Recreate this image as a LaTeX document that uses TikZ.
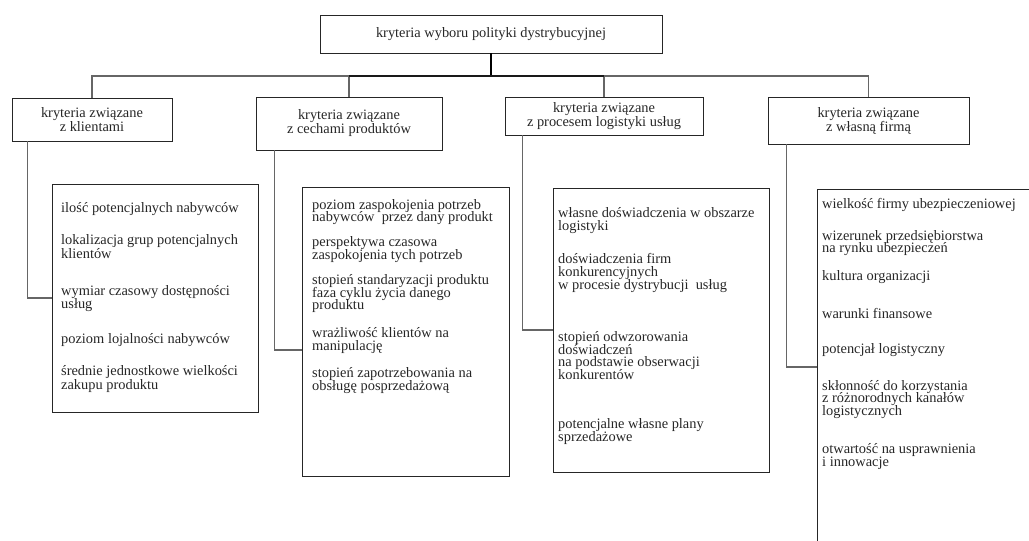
\documentclass[tikz,border=0pt]{standalone}
\usepackage{fontspec}
\setmainfont{Liberation Serif}
\usetikzlibrary{positioning}

\newcommand{\boxfont}{\fontsize{14.4}{14}\selectfont\lineskiplimit=-20pt}
\newcommand{\listfont}{\fontsize{14.4}{12.8}\selectfont\lineskiplimit=-20pt}
\newcommand{\looselist}{\fontsize{14.4}{13.6}\selectfont\lineskiplimit=-20pt}

\begin{document}
\begin{tikzpicture}[x=1pt, y=-1pt,
  rootbox/.style={rectangle, draw=black!85, line width=0.9pt,
    minimum width=342pt, minimum height=38pt, font=\boxfont, text=black!85},
  catbox/.style={rectangle, draw=black!85, line width=0.9pt, inner sep=0pt,
    align=center, font=\boxfont, text=black!85},
  listbox/.style={rectangle, draw=black!85, line width=0.9pt, inner sep=0pt,
    anchor=north west},
  items/.style={anchor=north west, inner sep=0pt, align=left,
    font=\listfont, text=black!85},
  link/.style={draw=black!60, line width=1.1pt},
  busline/.style={draw=black!90, line width=1.3pt},
  stem/.style={draw=black, line width=2.2pt}
]
\useasboundingbox (0,0) rectangle (1029,541);
\clip (0,0) rectangle (1029,541);
% === Top: main criterion ===
\node[rootbox] (root) at (491,34) {kryteria wyboru polityki dystrybucyjnej};
\coordinate (bus) at (491,76);
% === Level 1: four groups of criteria ===
\node[catbox, minimum width=160pt, minimum height=43pt] (klienci) at (92,119.5)
  {kryteria związane\\z klientami};
\node[catbox, minimum width=186pt, minimum height=53pt] (produkty) at (349,123.5)
  {kryteria związane\\z cechami produktów};
\node[catbox, minimum width=198pt, minimum height=38pt] (logistyka) at (604,116)
  {kryteria związane\\z procesem logistyki usług};
\node[catbox, minimum width=201pt, minimum height=47pt] (firma) at (868.5,120.5)
  {kryteria związane\\z własną firmą};
% === Level 2: lists of detailed criteria ===
\node[listbox, minimum width=206pt, minimum height=228pt] (lklienci) at (52,184) {};
\node[listbox, minimum width=207pt, minimum height=289pt] (lprodukty) at (302,187) {};
\node[listbox, minimum width=216pt, minimum height=284pt] (llogistyka) at (553,188) {};
\node[listbox, minimum width=260pt, minimum height=400pt] (lfirma) at (817,189) {};

\node[items, font=\looselist] (tklienci) at ([xshift=9pt, yshift=-18pt]lklienci.north west)
  {ilość potencjalnych nabywców\\[19pt]
   lokalizacja grup potencjalnych\\klientów\\[23pt]
   wymiar czasowy dostępności\\usług\\[21pt]
   poziom lojalności nabywców\\[19pt]
   średnie jednostkowe wielkości\\zakupu produktu};
\node[items] (tprodukty) at ([xshift=10pt, yshift=-12pt]lprodukty.north west)
  {poziom zaspokojenia potrzeb\\nabywców\ \ przez dany produkt\\[12pt]
   perspektywa czasowa\\zaspokojenia tych potrzeb\\[12pt]
   stopień standaryzacji produktu\\faza cyklu życia danego\\produktu\\[15pt]
   wrażliwość klientów na\\manipulację\\[14pt]
   stopień zapotrzebowania na\\obsługę posprzedażową};
\node[items] (tlogistyka) at ([xshift=5pt, yshift=-19pt]llogistyka.north west)
  {własne doświadczenia w obszarze\\logistyki\\[21pt]
   doświadczenia firm\\konkurencyjnych\\w procesie dystrybucji\ \ usług\\[39pt]
   stopień odwzorowania\\doświadczeń\\na podstawie obserwacji\\konkurentów\\[36pt]
   potencjalne własne plany\\sprzedażowe};
\node[items] (tfirma) at ([xshift=5pt, yshift=-9pt]lfirma.north west)
  {wielkość firmy ubezpieczeniowej\\[19pt]
   wizerunek przedsiębiorstwa\\na rynku ubezpieczeń\\[15pt]
   kultura organizacji\\[25pt]
   warunki finansowe\\[22pt]
   potencjał logistyczny\\[24pt]
   skłonność do korzystania\\z różnorodnych kanałów\\logistycznych\\[25pt]
   otwartość na usprawnienia\\i innowacje};
% === Connectors ===
\draw[stem] (root.south) -- (bus);
\draw[link] (klienci.north) |- (bus) -| (firma.north);
\draw[link] (produkty.north) -- (produkty.north |- bus);
\draw[link] (logistyka.north) -- (logistyka.north |- bus);
\draw[busline] (produkty.north |- bus) -- (logistyka.north |- bus);
\draw[link] ([xshift=16pt]klienci.south west) |- ([yshift=-114pt]lklienci.north west);
\draw[link] ([xshift=19pt]produkty.south west) |- ([yshift=-163pt]lprodukty.north west);
\draw[link] ([xshift=18pt]logistyka.south west) |- ([yshift=-142pt]llogistyka.north west);
\draw[link] ([xshift=19pt]firma.south west) |- ([yshift=-178pt]lfirma.north west);
\end{tikzpicture}
\end{document}
